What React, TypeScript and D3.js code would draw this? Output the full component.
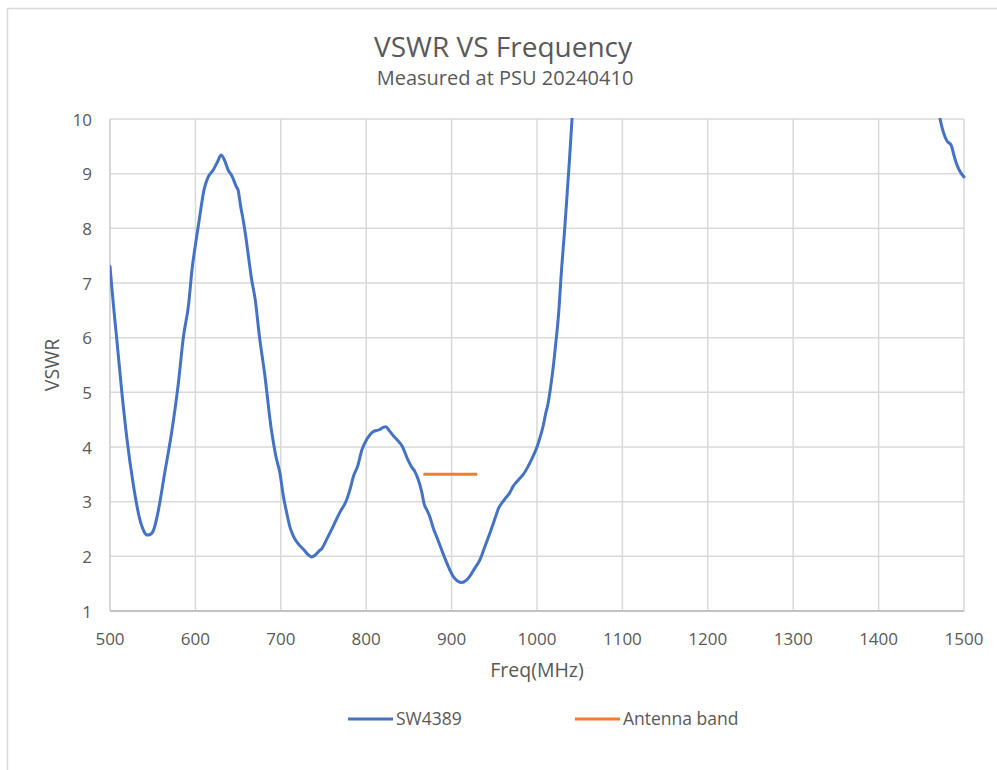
import React from "react";
import * as d3 from "d3";

const freq: number[] = [
  500, 504, 508, 514, 520, 527, 535, 540, 543, 547, 551, 556, 564, 572, 580, 586, 592, 596, 601, 605,
  610, 615, 621, 626, 630, 634, 638, 643, 648, 650, 653, 656, 659, 662, 666, 670, 675, 681, 689, 694,
  699, 703, 707, 711, 715, 722, 727, 732, 736, 740, 745, 748, 754, 761, 769, 777, 781, 785, 790, 795,
  801, 808, 816, 820, 823, 827, 832, 837, 842, 849, 853, 857, 861, 865, 868, 871, 875, 878, 884, 890,
  896, 902, 907, 912, 917, 921, 927, 933, 939, 945, 951, 955, 960, 964, 968, 972, 976, 980, 984, 988,
  992, 996, 1000, 1004, 1007, 1010, 1013, 1016, 1019, 1022, 1025, 1029, 1032, 1034, 1038, 1041, 1045, 1050,
  1100, 1200, 1300, 1400, 1440, 1460, 1472, 1476, 1480, 1485, 1488, 1491, 1495, 1500,
];
const vswr: number[] = [
  7.3, 6.6, 5.96, 4.98, 4.13, 3.34, 2.67, 2.45, 2.39, 2.4, 2.48, 2.79, 3.52, 4.25, 5.16, 6.02, 6.6, 7.24, 7.8, 8.21,
  8.7, 8.94, 9.07, 9.22, 9.34, 9.25, 9.08, 8.95, 8.76, 8.7, 8.4, 8.15, 7.85, 7.5, 7.05, 6.7, 6.02, 5.35, 4.31, 3.85,
  3.52, 3.1, 2.79, 2.52, 2.36, 2.2, 2.12, 2.03, 1.99, 2.02, 2.1, 2.14, 2.32, 2.54, 2.8, 3.03, 3.22, 3.46, 3.65, 3.95,
  4.15, 4.28, 4.32, 4.36, 4.37, 4.3, 4.2, 4.12, 4.02, 3.76, 3.64, 3.55, 3.4, 3.18, 2.95, 2.85, 2.7, 2.54, 2.3, 2.05,
  1.82, 1.63, 1.55, 1.52, 1.56, 1.63, 1.78, 1.93, 2.18, 2.43, 2.7, 2.88, 3.0, 3.08, 3.16, 3.28, 3.36, 3.43, 3.5, 3.6,
  3.72, 3.85, 4.0, 4.2, 4.37, 4.6, 4.8, 5.1, 5.46, 5.9, 6.38, 7.3, 7.9, 8.34, 9.25, 10.0, 11.2, 12.8,
  25, 35, 30, 20, 14, 11.5, 10.0, 9.75, 9.6, 9.52, 9.35, 9.19, 9.05, 8.94,
];
const bandFreq: number[] = [867, 930];
const bandVswr: number[] = [3.5, 3.5];

const xTicks: number[] = [500, 600, 700, 800, 900, 1000, 1100, 1200, 1300, 1400, 1500];
const yTicks: number[] = [1, 2, 3, 4, 5, 6, 7, 8, 9, 10];

const title = "VSWR VS Frequency";
const subtitle = "Measured at PSU 20240410";
const xTitle = "Freq(MHz)";
const yTitle = "VSWR";
const seriesNames: string[] = ["SW4389", "Antenna band"];

const W = 997;
const H = 770;
const plot = { left: 110, right: 964, top: 119, bottom: 611 };
const BLUE = "#4472C4";
const ORANGE = "#ED7D31";
const TEXT = "#595959";
const FONT = "'Open Sans', sans-serif";

export default function App() {
  const x = d3.scaleLinear().domain([500, 1500]).range([plot.left, plot.right]);
  const y = d3.scaleLinear().domain([1, 10]).range([plot.bottom, plot.top]);

  const mainData = freq.map((f, i) => [f, vswr[i]] as [number, number]);
  const bandData = bandFreq.map((f, i) => [f, bandVswr[i]] as [number, number]);

  const line = d3
    .line<[number, number]>()
    .x((d) => x(d[0]))
    .y((d) => y(d[1]))
    .curve(d3.curveMonotoneX);
  const straight = d3
    .line<[number, number]>()
    .x((d) => x(d[0]))
    .y((d) => y(d[1]));

  return (
    <svg
      width={W}
      height={H}
      style={{ position: "absolute", left: 0, top: 0, background: "#fff" }}
      fontFamily={FONT}
    >
      <rect x={0} y={0} width={W} height={H} fill="#fff" />
      <rect x={7.5} y={8.5} width={1100} height={900} fill="none" stroke="#d9d9d9" strokeWidth={1.5} />

      <defs>
        <clipPath id="plotClip">
          <rect x={plot.left} y={plot.top - 1} width={plot.right - plot.left + 2} height={plot.bottom - plot.top + 2} />
        </clipPath>
      </defs>

      {/* gridlines */}
      {yTicks.map((t) => (
        <line
          key={"gy" + t}
          x1={plot.left}
          x2={plot.right}
          y1={y(t)}
          y2={y(t)}
          stroke={t === 1 ? "#bfbfbf" : "#d9d9d9"}
          strokeWidth={1.5}
        />
      ))}
      {xTicks.map((t) => (
        <line
          key={"gx" + t}
          x1={x(t)}
          x2={x(t)}
          y1={plot.top}
          y2={plot.bottom}
          stroke={t === 500 ? "#c8c8c8" : "#d9d9d9"}
          strokeWidth={1.5}
        />
      ))}
      <line x1={plot.left} x2={plot.right} y1={y(1)} y2={y(1)} stroke="#bfbfbf" strokeWidth={1.5} />

      {/* tick labels */}
      {yTicks.map((t) => (
        <text key={"ty" + t} x={92} y={y(t) + 6.5} textAnchor="end" fontSize={17} fill={TEXT}>
          {t}
        </text>
      ))}
      {xTicks.map((t) => (
        <text key={"tx" + t} x={x(t)} y={645} textAnchor="middle" fontSize={17} fill={TEXT}>
          {t}
        </text>
      ))}

      {/* series */}
      <g clipPath="url(#plotClip)">
        <path d={line(mainData) || ""} fill="none" stroke={BLUE} strokeWidth={3} strokeLinejoin="round" strokeLinecap="round" />
      </g>
      <path d={straight(bandData) || ""} fill="none" stroke={ORANGE} strokeWidth={3} />

      {/* titles */}
      <text x={503} y={57} textAnchor="middle" fontSize={28} fill={TEXT}>
        {title}
      </text>
      <text x={505} y={85} textAnchor="middle" fontSize={20} fill={TEXT}>
        {subtitle}
      </text>
      <text x={537} y={677} textAnchor="middle" fontSize={19.5} fill={TEXT}>
        {xTitle}
      </text>
      <text
        transform={`translate(59,${(plot.top + plot.bottom) / 2}) rotate(-90)`}
        textAnchor="middle"
        fontSize={19.5}
        fill={TEXT}
      >
        {yTitle}
      </text>

      {/* legend */}
      <line x1={348} x2={393} y1={719} y2={719} stroke={BLUE} strokeWidth={3} />
      <text x={396} y={725} fontSize={17.5} fill={TEXT}>
        {seriesNames[0]}
      </text>
      <line x1={575} x2={620} y1={719} y2={719} stroke={ORANGE} strokeWidth={3} />
      <text x={623} y={725} fontSize={17.5} fill={TEXT}>
        {seriesNames[1]}
      </text>
    </svg>
  );
}
